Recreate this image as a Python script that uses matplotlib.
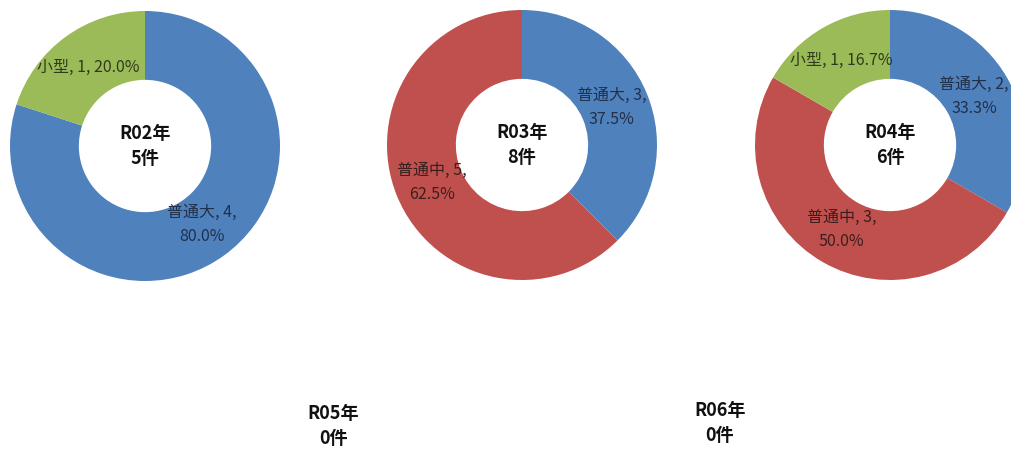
import matplotlib.pyplot as plt
import numpy as np

plt.rcParams['font.family'] = ['Noto Sans CJK JP', 'DejaVu Sans']

# data
years = ['R02年', 'R03年', 'R04年', 'R05年', 'R06年']
categories = ['普通大', '普通中', '小型']
counts = [
    [4, 0, 1],
    [3, 5, 0],
    [2, 3, 1],
    [0, 0, 0],
    [0, 0, 0],
]
colors = ['#4F81BD', '#C0504D', '#9BBB59']
label_colors = ['#22304a', '#3a1f1e', '#2f3a1c']

# layout (pixel centres of each donut)
W, H = 1012, 450
centers = [(145, 146), (522, 145), (890, 145), (333, 426), (720, 423)]
R = 135

fig = plt.figure(figsize=(W / 100, H / 100), dpi=100)

for year, vals, (cx, cy) in zip(years, counts, centers):
    ax = fig.add_axes([(cx - R) / W, 1 - (cy + R) / H, 2 * R / W, 2 * R / H])
    ax.set_xlim(-1, 1)
    ax.set_ylim(-1, 1)
    ax.set_aspect('equal')
    ax.axis('off')
    total = sum(vals)
    ax.text(0, 0, f'{year}\n{total}件', ha='center', va='center',
            fontsize=13, fontweight='bold', linespacing=1.45, color='#111111')
    if total == 0:
        continue
    idx = [i for i, v in enumerate(vals) if v > 0]
    wedges, _ = ax.pie([vals[i] for i in idx], colors=[colors[i] for i in idx],
                       startangle=90, counterclock=False, radius=1,
                       wedgeprops=dict(width=0.51, linewidth=0))
    ax.set_xlim(-1, 1)
    ax.set_ylim(-1, 1)
    for w, i in zip(wedges, idx):
        mid = np.deg2rad((w.theta1 + w.theta2) / 2)
        pct = f'{vals[i] / total * 100:.1f}%'
        name = categories[i]
        if len(name) <= 2:
            txt = f'{name}, {vals[i]}, {pct}'
        else:
            txt = f'{name}, {vals[i]},\n{pct}'
        ax.text(0.72 * np.cos(mid), 0.72 * np.sin(mid), txt, ha='center',
                va='center', fontsize=11.5, color=label_colors[i], linespacing=1.55)

fig.savefig('out.png', dpi=100)
